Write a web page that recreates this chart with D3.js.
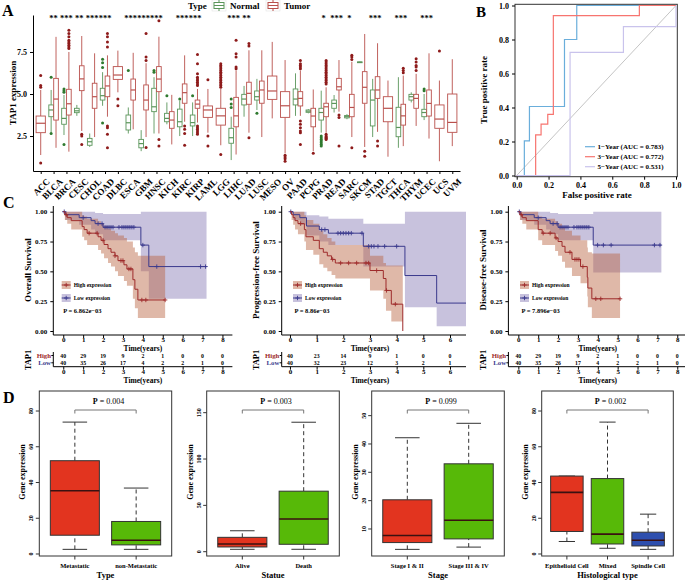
<!DOCTYPE html>
<html><head><meta charset="utf-8">
<script src="https://cdn.jsdelivr.net/npm/d3@7"></script>
<style>
body{margin:0;background:#fff}
svg{display:block}
text{font-family:"Liberation Serif","Times New Roman",serif;font-weight:bold}
</style>
</head><body>
<svg id="c" width="685" height="581"></svg>
<script>
// ================= DATA =================
// Panel A: pan-cancer TAP1 expression. Box stats = [whiskerLow, q1, median, q3, whiskerHigh]
const cancers = ["ACC","BLCA","BRCA","CESC","CHOL","COAD","DLBC","ESCA","GBM","HNSC","KICH","KIRC","KIRP","LAML","LGG","LIHC","LUAD","LUSC","MESO","OV","PAAD","PCPG","PRAD","READ","SARC","SKCM","STAD","TGCT","THCA","THYM","UCEC","UCS","UVM"];
const signif = ["","**","***","**","***","***","","***","***","***","","***","***","","","***","**","","","","","","*","***","*","","***","","***","","***","",""];
const normalBox = [null,[2.7,3.65,4.05,4.35,5.24],[2.56,3.2,3.55,4.15,4.94],[3.7,3.89,4.0,4.15,4.35],[1.85,1.95,2.16,2.36,2.65],[4.3,4.64,4.9,5.34,6.3],null,[2.65,2.86,3.29,3.75,4.2],[1.6,1.8,2.05,2.3,2.85],[2.65,3.95,4.24,5.34,6.0],[3.2,3.35,3.55,3.85,4.5],[2.5,3.05,3.35,4.1,4.6],[2.5,3.1,3.3,3.75,4.5],null,null,[1.07,2.07,2.4,2.96,3.65],[3.65,4.35,4.7,4.98,5.48],[4.05,4.64,4.84,5.18,5.9],null,null,[3.7,4.35,4.7,5.3,6.23],[3.85,3.91,3.98,4.05,4.1],[2.7,3.45,3.9,4.15,5.2],[3.9,4.15,4.44,4.64,4.94],[3.5,3.58,3.65,3.72,3.8],[6.85,6.87,6.89,6.91,6.93],[2.44,3.1,4.64,5.24,5.9],null,[1.8,2.46,3.01,4.21,6.0],[4.5,4.64,4.84,4.98,5.1],[3.45,3.65,3.9,4.09,5.0],null,null];
const normalOut = [[],[6.0,2.65],[5.1,5.2,5.3,2.0],[],[],[7.07,6.86,6.57,3.27],[],[6.4],[],[6.4,6.3],[4.9],[4.7],[4.9],[],[],[4.7,4.4,4.2],[],[3.85],[],[],[],[],[2.5,2.4,2.3,2.2,2.1,2.0,1.9],[],[],[],[],[],[],[],[5.3,5.2],[],[]];
const tumorBox = [[1.37,2.7,3.26,3.69,5.24],[1.8,3.45,4.7,5.93,8.4],[1.57,3.75,4.42,5.28,7.5],[2.8,5.2,5.9,6.68,8.45],[2.44,4.15,4.84,5.64,7.42],[3.65,4.84,5.48,6.07,7.3],[5.1,5.87,6.13,6.63,7.58],[2.9,4.64,5.24,5.89,7.45],[2.44,4.05,4.64,5.54,6.83],[2.65,5.14,5.89,6.63,8.41],[2.0,2.96,3.45,3.95,4.95],[3.35,4.45,5.08,5.6,7.3],[3.3,4.15,4.4,4.64,5.3],[2.7,3.61,4.05,4.29,5.3],[1.95,3.15,3.7,4.15,5.3],[1.4,3.05,3.7,4.8,6.4],[2.7,4.39,5.04,5.7,7.6],[2.44,4.45,5.24,5.77,7.6],[3.55,4.68,5.18,6.07,8.1],[1.47,3.61,4.3,5.14,7.02],[3.7,4.29,4.74,5.14,6.4],[1.6,3.05,3.69,4.15,5.27],[2.7,3.65,4.24,4.45,5.4],[3.95,5.24,5.43,5.93,7.02],[2.44,3.65,4.2,4.98,6.92],[1.85,4.45,5.4,6.33,8.57],[2.75,4.74,5.24,6.03,8.02],[1.27,3.35,4.15,4.84,5.8],[1.9,3.15,3.7,4.39,6.1],[3.1,4.15,4.74,4.98,6.2],[2.35,3.69,4.44,5.24,7.42],[1.0,2.96,3.51,4.35,5.8],[1.9,2.72,3.31,5.0,7.07]];
const tumorOut = [[6.1,5.5,5.4,0.9],[],[7.7,7.8,7.9,8.0,8.1,8.2,8.4,8.6,8.8],[2.6,2.5,2.0],[],[8.6,8.4,8.1,7.8,3.1,3.0,2.6,1.8],[4.7,4.3],[],[8.6,7.2,7.0,1.82],[9.36,2.3,1.9],[],[3.1,2.9,2.65,1.95],[7.35,6.8,6.2,6.0,5.9,5.8,5.7,5.6,5.5,3.1,3.0,2.9,2.8,2.7,2.6],[5.85,2.5,1.9],[6.8,6.7,6.6,6.5,6.4,6.3,6.2,6.1,6.0,5.9,5.8,5.7,5.6,5.5,5.4,1.4],[8.2,7.4,7.2,6.6,6.5],[8.0,7.85,2.4],[],[],[1.35,1.25,1.15,1.0],[7.0,6.8,6.7,6.6,6.5,3.4,3.2,3.0,2.8,2.7,2.0],[1.47],[7.0,6.9,6.8,6.7,6.6,6.5,6.4,6.3,6.2,6.1,6.0,5.9,5.8,5.7,5.6,2.6,2.5,2.45,2.4,2.35,2.3],[3.75,3.6,1.9],[7.3,7.2,7.05,1.8],[1.6,1.3],[2.2,1.9],[],[6.53,6.4,6.27],[7.1,6.9,6.7,6.6,6.4],[],[7.56],[]];
const yTicksA = [2.5,5.0,7.5];

// Panel B: ROC curves [fpr, tpr]
const rocLabels = ["1\u2212Year (AUC = 0.783)","3\u2212Year (AUC = 0.772)","5\u2212Year (AUC = 0.531)"];
const roc1 = [[0,0],[0.048,0],[0.048,0.204],[0.08,0.204],[0.08,0.406],[0.3,0.406],[0.3,0.8],[0.377,0.8],[0.377,1],[1,1]];
const roc3 = [[0,0],[0.119,0],[0.119,0.239],[0.153,0.239],[0.153,0.302],[0.195,0.302],[0.195,0.36],[0.23,0.36],[0.23,0.94],[0.77,0.94],[0.77,1],[1,1]];
const roc5 = [[0,0],[0.335,0],[0.335,0.724],[0.67,0.724],[0.67,0.876],[1,0.876],[1,1]];
const rocTicks = [0,0.2,0.4,0.6,0.8,1.0];

// Panel C: KM steps [time, survival, lower, upper]
const osHigh = [[0,1,1,1],[0.08,0.975,0.93,1],[0.2,0.95,0.9,1],[0.4,0.925,0.85,1],[0.95,0.875,0.79,0.97],[1.05,0.85,0.76,0.96],[1.2,0.82,0.72,0.94],[1.75,0.79,0.68,0.92],[1.9,0.76,0.65,0.9],[2.05,0.725,0.61,0.88],[2.25,0.69,0.57,0.86],[2.4,0.66,0.54,0.84],[2.6,0.63,0.5,0.82],[2.75,0.59,0.46,0.8],[3.05,0.555,0.42,0.78],[3.2,0.52,0.38,0.75],[3.5,0.43,0.27,0.7],[3.6,0.35,0.19,0.66],[3.75,0.26,0.11,0.63]];
const osHighCens = [0.15,1.3,1.7,2.0,2.6,2.9,3.0,3.3,3.4,3.95,4.15,5.12];
const osLow = [[0,1,1,1],[0.1,0.975,0.93,1],[0.8,0.95,0.89,1],[1.4,0.925,0.85,1],[1.6,0.9,0.81,0.99],[2.0,0.87,0.76,0.98],[3.9,0.72,0.5,1],[4.3,0.54,0.27,1]];
const osLowCens = [0.05,1.0,1.75,1.95,2.1,2.2,2.3,2.4,2.5,2.8,2.95,3.05,3.15,3.25,3.35,3.45,3.55,4.0,4.7,6.9,7.15];
const pfsHigh = [[0,1,1,1],[0.06,0.975,0.93,1],[0.12,0.95,0.89,1],[0.19,0.925,0.85,1],[0.3,0.9,0.81,1],[0.54,0.85,0.75,0.97],[0.6,0.79,0.68,0.93],[0.875,0.76,0.64,0.9],[1.1,0.69,0.56,0.84],[1.25,0.66,0.53,0.81],[1.4,0.63,0.5,0.78],[1.56,0.6,0.47,0.75],[1.7,0.57,0.44,0.72],[3.0,0.507,0.34,0.63],[3.5,0.44,0.27,0.57],[3.6,0.34,0.17,0.55],[3.8,0.225,0.08,0.55],[4.23,0,0,0]];
const pfsHighCens = [0.4,1.6,1.9,2.2,2.5,2.85,2.95,3.25,3.62,3.95];
const pfsLow = [[0,1,1,1],[0.12,0.975,0.93,1],[0.37,0.95,0.89,1],[0.62,0.88,0.8,0.97],[1.1,0.85,0.75,0.96],[1.44,0.82,0.72,0.94],[2.75,0.71,0.54,0.9],[4.31,0.465,0.2,1],[5.5,0.234,0.04,1]];
const pfsLowCens = [0.03,1.19,1.31,1.8,1.9,2.0,2.1,2.2,2.3,2.7,2.95,3.05,3.15,3.3,3.55,4.0];
const dfsHigh = [[0,1,1,1],[0.08,0.975,0.93,1],[0.2,0.95,0.9,1],[0.4,0.925,0.85,1],[1.0,0.85,0.76,0.96],[1.2,0.82,0.72,0.94],[1.85,0.78,0.67,0.92],[2.0,0.75,0.63,0.9],[2.2,0.71,0.58,0.87],[2.35,0.66,0.53,0.84],[2.7,0.6,0.46,0.8],[3.13,0.54,0.4,0.76],[3.47,0.45,0.29,0.7],[3.5,0.36,0.2,0.66],[3.7,0.27,0.11,0.65]];
const dfsHighCens = [0.15,1.25,1.6,1.9,2.6,2.85,2.95,3.05,3.25,3.9,4.15,5.12];
const dfsLow = [[0,1,1,1],[0.1,0.975,0.93,1],[0.8,0.95,0.89,1],[1.4,0.925,0.85,1],[1.6,0.9,0.81,0.99],[2.0,0.87,0.76,0.98],[3.77,0.72,0.49,1]];
const dfsLowCens = [0.05,1.0,1.75,1.95,2.1,2.2,2.3,2.4,2.5,2.8,2.95,3.05,3.15,3.25,3.35,3.45,3.55,3.99,4.28,4.67,6.85,7.13];
const riskHighOS = [40,29,19,9,2,1,0,0,0];
const riskLowOS  = [40,35,26,17,4,2,2,1,0];
const riskHighPFS = [40,23,14,9,1,0,0];
const riskLowPFS  = [40,32,23,12,3,2,1];
const kmYTicks = [0,0.25,0.5,0.75,1];

// Panel D: box stats [min, q1, median, q3, max]
const typeGroups = ["Metastatic","non-Metastatic"];
const typeStats = [[2.6,10.5,35.4,52.2,73.8],[2.6,5.1,7.7,18.2,36.9]];
const statueGroups = ["Alive","Death"];
const statueStats = [[2.6,5.1,8.3,15.5,22.6],[2.6,8.0,35.3,65.3,139.7]];
const stageGroups = ["Stage I & II","Stage III & IV"];
const stageStats = [[2.8,5.2,7.7,20.3,42.2],[3.6,6.5,13.1,33.0,47.3]];
const histGroups = ["Epithelioid Cell","Mixed","Spindle Cell"];
const histStats = [[7.0,12.6,34.5,43.6,43.6],[3.2,5.6,11.1,42.2,73.8],[2.6,4.5,7.7,12.2,22.3]];
const pValues = ["0.004","0.003","0.099","0.002"];

// ================= DRAW =================
const svg = d3.select("#c");
const SERIF = '"Liberation Serif","Times New Roman",serif';
function styleAxis(g,size){
  g.attr("font-family",SERIF).attr("font-size",size).attr("font-weight","bold");
  g.selectAll(".domain").attr("stroke","#000");
  g.selectAll(".tick line").attr("stroke","#000");
  g.selectAll(".tick text").attr("fill","#000");
}
function label(txt,x,y,size){ svg.append("text").attr("x",x).attr("y",y).attr("font-size",size).text(txt); }

// ---------- Panel A ----------
(function(){
  const g = svg.append("g");
  const x = d3.scalePoint().domain(cancers).range([33,460]).padding(0.6);
  const y = d3.scaleLinear().domain([0.42,9.7]).range([171,15]);
  const step = x.step();
  const gy = g.append("g").attr("transform","translate(33,0)")
    .call(d3.axisLeft(y).tickValues(yTicksA).tickFormat(d3.format(".1f")).tickSize(3).tickSizeOuter(0));
  styleAxis(gy,8);
  const gx = g.append("g").attr("transform","translate(0,171)")
    .call(d3.axisBottom(x).tickSize(3).tickSizeOuter(0));
  styleAxis(gx,9);
  gx.selectAll(".tick text").attr("text-anchor","end").attr("dy",0)
    .attr("transform","translate(5,7) rotate(-45)");
  g.append("text").attr("transform","translate(16,93) rotate(-90)").attr("text-anchor","middle")
    .attr("font-size",9).text("TAP1 expression");

  function box(cx,w,s,outs,stroke,dot){
    const bg = g.append("g");
    bg.append("line").attr("x1",cx).attr("x2",cx).attr("y1",y(s[0])).attr("y2",y(s[1])).attr("stroke",stroke).attr("stroke-width",0.9);
    bg.append("line").attr("x1",cx).attr("x2",cx).attr("y1",y(s[3])).attr("y2",y(s[4])).attr("stroke",stroke).attr("stroke-width",0.9);
    bg.append("rect").attr("x",cx-w/2).attr("width",w).attr("y",y(s[3])).attr("height",Math.max(0.8,y(s[1])-y(s[3])))
      .attr("fill","#fff").attr("stroke",stroke).attr("stroke-width",0.9);
    bg.append("line").attr("x1",cx-w/2).attr("x2",cx+w/2).attr("y1",y(s[2])).attr("y2",y(s[2])).attr("stroke",stroke).attr("stroke-width",1.2);
    outs.forEach(v=>bg.append("circle").attr("cx",cx).attr("cy",y(v)).attr("r",1.5).attr("fill",dot));
  }
  const nStroke="#5a955a", nDot="#2f7a2f", tStroke="#b9504c", tDot="#8e1b1b";
  cancers.forEach((c,i)=>{
    const cx = x(c);
    if(normalBox[i]){
      box(cx-step*0.19,step*0.36,normalBox[i],normalOut[i],nStroke,nDot);
      box(cx+step*0.19,step*0.36,tumorBox[i],tumorOut[i],tStroke,tDot);
    } else {
      box(cx,step*0.72,tumorBox[i],tumorOut[i],tStroke,tDot);
    }
    if(signif[i]) g.append("text").attr("x",cx).attr("y",21).attr("text-anchor","middle").attr("font-size",8.5).text(signif[i]);
  });
  // legend
  g.append("text").attr("x",188).attr("y",9).attr("font-size",9).text("Type");
  function key(x0,stroke,txt){
    g.append("rect").attr("x",x0).attr("y",0).attr("width",14).attr("height",11).attr("fill","#fff").attr("stroke","#ddd").attr("stroke-width",0.5);
    g.append("line").attr("x1",x0+7).attr("x2",x0+7).attr("y1",0).attr("y2",11).attr("stroke",stroke);
    g.append("rect").attr("x",x0+2).attr("y",2.5).attr("width",10).attr("height",6).attr("fill","#fff").attr("stroke",stroke);
    g.append("line").attr("x1",x0+2).attr("x2",x0+12).attr("y1",5.5).attr("y2",5.5).attr("stroke",stroke);
    g.append("text").attr("x",x0+18).attr("y",9).attr("font-size",9).attr("font-weight","normal").text(txt);
  }
  key(212,nStroke,"Normal");
  key(266,tStroke,"Tumor");
})();
label("A",2,16,16);

// ---------- Panel B ----------
(function(){
  const g = svg.append("g");
  const x = d3.scaleLinear().domain([0,1]).range([516.7,676]);
  const y = d3.scaleLinear().domain([0,1]).range([175.5,5.5]);
  g.append("rect").attr("x",515).attr("y",4.3).attr("width",162.3).attr("height",172.4).attr("fill","none").attr("stroke","#333").attr("stroke-width",1);
  const gx = g.append("g").attr("transform","translate(0,176.7)").call(d3.axisBottom(x).tickValues(rocTicks).tickFormat(d3.format(".1f")).tickSize(3).tickSizeOuter(0));
  gx.select(".domain").remove(); styleAxis(gx,8);
  const gy = g.append("g").attr("transform","translate(515,0)").call(d3.axisLeft(y).tickValues(rocTicks).tickFormat(d3.format(".1f")).tickSize(3).tickSizeOuter(0));
  gy.select(".domain").remove(); styleAxis(gy,8);
  g.append("text").attr("x",597).attr("y",198).attr("text-anchor","middle").attr("font-size",9).text("False positive rate");
  g.append("text").attr("transform","translate(487,90) rotate(-90)").attr("text-anchor","middle").attr("font-size",9).text("True positive rate");
  g.append("line").attr("x1",x(0)).attr("y1",y(0)).attr("x2",x(1)).attr("y2",y(1)).attr("stroke","#bdbdbd").attr("stroke-width",0.9);
  const line = d3.line().x(d=>x(d[0])).y(d=>y(d[1]));
  const cols = ["#6aaedb","#f7746f","#c9c3ec"];
  [roc1,roc3,roc5].forEach((r,i)=>g.append("path").attr("d",line(r)).attr("fill","none").attr("stroke",cols[i]).attr("stroke-width",1.2));
  rocLabels.forEach((t,i)=>{
    const yy = 146.7+i*10;
    g.append("line").attr("x1",585).attr("x2",595).attr("y1",yy).attr("y2",yy).attr("stroke",cols[i]).attr("stroke-width",1.2);
    g.append("text").attr("x",597.5).attr("y",yy+2.5).attr("font-size",7).text(t);
  });
})();
label("B",476,17,15);

// ---------- Panel C ----------
const highCol="#9e2b2b", lowCol="#3b3a8d", highBand="#b7623f", lowBand="#8478b3";
function survAt(steps,t){ let s=steps[0][1]; steps.forEach(d=>{ if(d[0]<=t) s=d[1]; }); return s; }
function kmPanel(cfg){
  const g = svg.append("g");
  const x = d3.scaleLinear().domain(cfg.xDomain).range(cfg.xRange);
  const y = d3.scaleLinear().domain([0,1]).range([331,211.7]);
  const ax = cfg.xRange[0];
  const area = d3.area().curve(d3.curveStepAfter).x(d=>x(d[0])).y0(d=>y(d[2])).y1(d=>y(d[3]));
  const line = d3.line().curve(d3.curveStepAfter).x(d=>x(d[0])).y(d=>y(d[1]));
  const ext = (st,end)=>{ const l=st[st.length-1]; return st.concat([[end,l[1],l[2],l[3]]]); };
  cfg.curves.forEach(c=>g.append("path").attr("d",area(ext(c.steps,c.end))).attr("fill",c.band).attr("fill-opacity",0.45));
  function cross(cx,cy,col){
    g.append("path").attr("d",`M${cx-2.2},${cy}H${cx+2.2}M${cx},${cy-2.2}V${cy+2.2}`).attr("stroke",col).attr("stroke-width",0.9);
  }
  cfg.curves.forEach(c=>{
    g.append("path").attr("d",line(ext(c.steps,c.end))).attr("fill","none").attr("stroke",c.color).attr("stroke-width",1);
    c.cens.forEach(t=>cross(x(t),y(survAt(c.steps,t)),c.color));
  });
  // axes
  const gy = g.append("g").attr("transform",`translate(${ax},0)`).call(d3.axisLeft(y).tickValues(kmYTicks).tickFormat(d3.format(".2f")).tickSize(3));
  gy.select(".domain").remove(); styleAxis(gy,7);
  g.append("line").attr("x1",ax).attr("x2",ax).attr("y1",206).attr("y2",335).attr("stroke","#000");
  const ticks = d3.range(cfg.risk[0].length);
  const gx = g.append("g").attr("transform","translate(0,335)").call(d3.axisBottom(x).tickValues(ticks).tickFormat(d3.format("d")).tickSize(3));
  gx.select(".domain").remove(); styleAxis(gx,7);
  gx.selectAll(".tick text").attr("y",2.3);
  g.append("line").attr("x1",ax).attr("x2",cfg.xRange[1]).attr("y1",335).attr("y2",335).attr("stroke","#000");
  g.append("text").attr("x",x(cfg.titleT)).attr("y",350.8).attr("text-anchor","middle").attr("font-size",7.5).text("Time(years)");
  g.append("text").attr("transform",`translate(${cfg.yTitleX},270) rotate(-90)`).attr("text-anchor","middle").attr("font-size",9).text(cfg.yTitle);
  // legend
  const lx = cfg.legX;
  [["High expression",highBand,highCol,281],["Low expression",lowBand,lowCol,294]].forEach(d=>{
    g.append("rect").attr("x",lx).attr("y",d[3]).attr("width",9).attr("height",8).attr("fill",d[1]).attr("fill-opacity",0.45);
    g.append("line").attr("x1",lx).attr("x2",lx+9).attr("y1",d[3]+4).attr("y2",d[3]+4).attr("stroke",d[2]).attr("stroke-width",1);
    cross(lx+4.5,d[3]+4,d[2]);
    g.append("text").attr("x",lx+12).attr("y",d[3]+6).attr("font-size",5.5).attr("font-weight","normal").text(d[0]);
  });
  g.append("text").attr("x",lx+1.5).attr("y",313).attr("font-size",6.5).text(cfg.p);
  // risk table
  g.append("text").attr("transform",`translate(${cfg.yTitleX-0.5},360) rotate(-90)`).attr("text-anchor","middle").attr("font-size",8.5).text("TAP1");
  g.append("line").attr("x1",ax).attr("x2",ax).attr("y1",352).attr("y2",366.7).attr("stroke","#000");
  [["High",highCol,355.5,cfg.risk[0]],["Low",lowCol,362.8,cfg.risk[1]]].forEach(r=>{
    g.append("line").attr("x1",ax-2).attr("x2",ax).attr("y1",r[2]).attr("y2",r[2]).attr("stroke","#000");
    g.append("text").attr("x",ax-2.3).attr("y",r[2]+2.3).attr("text-anchor","end").attr("font-size",6.8).attr("fill",r[1]).text(r[0]);
    r[3].forEach((n,i)=>g.append("text").attr("x",x(i)).attr("y",r[2]+2.1).attr("text-anchor","middle").attr("font-size",5.8).text(n));
  });
  const gx2 = g.append("g").attr("transform","translate(0,366.7)").call(d3.axisBottom(x).tickValues(ticks).tickFormat(d3.format("d")).tickSize(3));
  gx2.select(".domain").remove(); styleAxis(gx2,7);
  gx2.selectAll(".tick text").attr("y",2.3);
  g.append("line").attr("x1",ax).attr("x2",cfg.xRange[1]).attr("y1",366.7).attr("y2",366.7).attr("stroke","#000");
  g.append("text").attr("x",x(cfg.titleT)).attr("y",383.3).attr("text-anchor","middle").attr("font-size",7.5).text("Time(years)");
}
kmPanel({xDomain:[-0.5,8.5],xRange:[53.3,232.4],titleT:4,yTitleX:31,yTitle:"Overall Survival",legX:61.7,p:"P = 6.862e\u221203",
  risk:[riskHighOS,riskLowOS],
  curves:[{steps:osLow,end:7.2,cens:osLowCens,color:lowCol,band:lowBand},{steps:osHigh,end:5.12,cens:osHighCens,color:highCol,band:highBand}]});
kmPanel({xDomain:[-0.31,6.6],xRange:[281.7,466],titleT:3,yTitleX:259,yTitle:"Progression-free Survival",legX:293,p:"P = 8.86e\u221203",
  risk:[riskHighPFS,riskLowPFS],
  curves:[{steps:pfsLow,end:6.6,cens:pfsLowCens,color:lowCol,band:lowBand},{steps:pfsHigh,end:4.23,cens:pfsHighCens,color:highCol,band:highBand}]});
kmPanel({xDomain:[-0.5,8.5],xRange:[508.4,687.2],titleT:4,yTitleX:486,yTitle:"Disease-free Survival",legX:520,p:"P = 7.896e\u221203",
  risk:[riskHighOS,riskLowOS],
  curves:[{steps:dfsLow,end:7.2,cens:dfsLowCens,color:lowCol,band:lowBand},{steps:dfsHigh,end:5.12,cens:dfsHighCens,color:highCol,band:highBand}]});
label("C",3,208,16);

// ---------- Panel D ----------
const boxCols = ["#e2341f","#57b908","#2e4fae"];
function basePlot(cfg){
  const g = svg.append("g");
  const n = cfg.groups.length;
  const x = d3.scaleLinear().domain([0.5-0.04*n,n+0.5+0.04*n]).range([cfg.left,cfg.right]);
  const y = d3.scaleLinear().domain(cfg.yDomain).range([556,391]);
  const bw = 0.8;
  cfg.stats.forEach((s,i)=>{
    const cx = x(i+1), w = x(1+bw)-x(1), cw = w/2;
    g.append("line").attr("x1",cx).attr("x2",cx).attr("y1",y(s[0])).attr("y2",y(s[1])).attr("stroke","#333").attr("stroke-dasharray","4,3");
    g.append("line").attr("x1",cx).attr("x2",cx).attr("y1",y(s[3])).attr("y2",y(s[4])).attr("stroke","#333").attr("stroke-dasharray","4,3");
    g.append("line").attr("x1",cx-cw/2).attr("x2",cx+cw/2).attr("y1",y(s[0])).attr("y2",y(s[0])).attr("stroke","#333");
    g.append("line").attr("x1",cx-cw/2).attr("x2",cx+cw/2).attr("y1",y(s[4])).attr("y2",y(s[4])).attr("stroke","#333");
    g.append("rect").attr("x",cx-w/2).attr("width",w).attr("y",y(s[3])).attr("height",y(s[1])-y(s[3])).attr("fill",boxCols[i]).attr("stroke","#333").attr("stroke-width",1);
    g.append("line").attr("x1",cx-w/2).attr("x2",cx+w/2).attr("y1",y(s[2])).attr("y2",y(s[2])).attr("stroke","#3a1111").attr("stroke-width",1.6);
    g.append("line").attr("x1",cx).attr("x2",cx).attr("y1",556).attr("y2",559.5).attr("stroke","#333");
    g.append("text").attr("x",cx).attr("y",568).attr("text-anchor","middle").attr("font-size",6.5).text(cfg.groups[i]);
  });
  g.append("rect").attr("x",cfg.left).attr("y",391).attr("width",cfg.right-cfg.left).attr("height",165).attr("fill","none").attr("stroke","#333").attr("stroke-width",1);
  cfg.ticks.forEach(t=>{
    g.append("line").attr("x1",cfg.left-3.5).attr("x2",cfg.left).attr("y1",y(t)).attr("y2",y(t)).attr("stroke","#333");
    g.append("text").attr("transform",`translate(${cfg.left-6},${y(t)}) rotate(-90)`).attr("text-anchor","middle").attr("font-size",6).text(t);
  });
  g.append("text").attr("transform",`translate(${cfg.left-14},472) rotate(-90)`).attr("text-anchor","middle").attr("font-size",8).text("Gene expression");
  g.append("text").attr("x",(cfg.left+cfg.right)/2).attr("y",578).attr("text-anchor","middle").attr("font-size",8.5).text(cfg.title);
  const x1 = x(1), x2 = x(n);
  g.append("path").attr("d",`M${x1},413.5V410H${x2}V413.5`).attr("fill","none").attr("stroke","#777").attr("stroke-width",1);
  const pt = g.append("text").attr("x",(x1+x2)/2+3).attr("y",404).attr("text-anchor","middle").attr("font-size",8).attr("fill","#000");
  pt.append("tspan").text("P");
  pt.append("tspan").attr("font-weight","normal").text(" = " + cfg.p);
}
basePlot({left:39.3,right:171.7,yDomain:[-1.12,91.2],ticks:[0,20,40,60,80],groups:typeGroups,stats:typeStats,title:"Type",p:pValues[0]});
basePlot({left:206.7,right:339.3,yDomain:[-4.64,173.4],ticks:[0,50,100,150],groups:statueGroups,stats:statueStats,title:"Statue",p:pValues[1]});
basePlot({left:371.7,right:504.3,yDomain:[0.46,58.7],ticks:[10,20,30,40,50],groups:stageGroups,stats:stageStats,title:"Stage",p:pValues[2]});
basePlot({left:541.7,right:673.3,yDomain:[-1.12,91.2],ticks:[0,20,40,60,80],groups:histGroups,stats:histStats,title:"Histological type",p:pValues[3]});
label("D",3,403,16);
</script>
</body></html>
